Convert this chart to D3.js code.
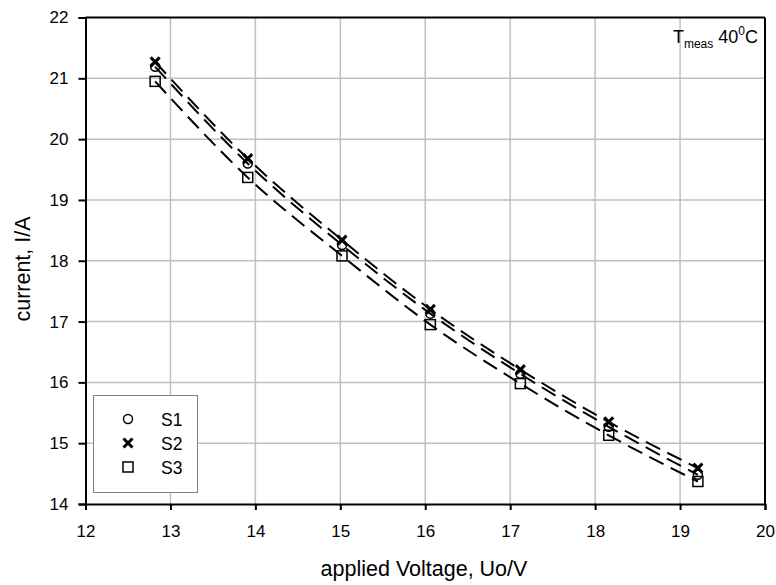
<!DOCTYPE html>
<html><head><meta charset="utf-8">
<script src="https://cdn.jsdelivr.net/npm/d3@7"></script>
<style>body{margin:0;background:#fff}text{font-family:"Liberation Sans",Arial,sans-serif}</style>
</head><body><svg id="c" width="776" height="585"></svg>
<script>
const voltage = [12.82, 13.91, 15.02, 16.06, 17.12, 18.16, 19.21];
const s1 = [21.19, 19.60, 18.26, 17.13, 16.14, 15.27, 14.48];
const s2 = [21.27, 19.68, 18.34, 17.20, 16.21, 15.35, 14.59];
const s3 = [20.95, 19.37, 18.08, 16.95, 15.98, 15.13, 14.37];
const seriesNames = ["S1", "S2", "S3"];
const xTicks = [12,13,14,15,16,17,18,19,20];
const yTicks = [14,15,16,17,18,19,20,21,22];

const svg = d3.select("#c");
const L=85.5, R=765, T=17.5, B=504;
const x = d3.scaleLinear().domain([12,20]).range([L,R]);
const y = d3.scaleLinear().domain([14,22]).range([B,T]);

// grid
svg.append("g").selectAll("line").data(xTicks.slice(1,-1)).join("line")
  .attr("x1",d=>x(d)).attr("x2",d=>x(d)).attr("y1",T).attr("y2",B)
  .attr("stroke","#c0c0c0").attr("stroke-width",1.5);
svg.append("g").selectAll("line").data(yTicks.slice(1,-1)).join("line")
  .attr("y1",d=>y(d)).attr("y2",d=>y(d)).attr("x1",L).attr("x2",R)
  .attr("stroke","#c0c0c0").attr("stroke-width",1.5);

// axes
const xa = svg.append("g").attr("transform",`translate(0,${B})`)
  .call(d3.axisBottom(x).tickValues(xTicks).tickSize(6).tickPadding(15).tickFormat(d3.format("d")));
const ya = svg.append("g").attr("transform",`translate(${L},0)`)
  .call(d3.axisLeft(y).tickValues(yTicks).tickSize(7).tickPadding(10).tickFormat(d3.format("d")));
[xa,ya].forEach(a=>{
  a.select(".domain").attr("stroke","#000").attr("stroke-width",2);
  a.selectAll(".tick line").attr("stroke","#000").attr("stroke-width",2);
  a.selectAll("text").style("font-size","17px").attr("fill","#000");
});
// top and right borders
svg.append("line").attr("x1",L).attr("x2",R).attr("y1",T).attr("y2",T).attr("stroke","#000").attr("stroke-width",2);
svg.append("line").attr("x1",R).attr("x2",R).attr("y1",T).attr("y2",B).attr("stroke","#000").attr("stroke-width",2);

// labels
svg.append("text").attr("x",424).attr("y",576).attr("text-anchor","middle").style("font-size","21.5px").text("applied Voltage, Uo/V");
svg.append("text").attr("transform","translate(30,269) rotate(-90)").attr("text-anchor","middle").style("font-size","21.5px").text("current, I/A");

// annotation
const ann = svg.append("text").attr("x",758).attr("y",43).attr("text-anchor","end").style("font-size","18px");
ann.append("tspan").text("T");
ann.append("tspan").style("font-size","12px").attr("dy",5).text("meas");
ann.append("tspan").attr("dy",-5).text(" 40");
ann.append("tspan").style("font-size","12px").attr("dy",-8).text("0");
ann.append("tspan").attr("dy",8).text("C");

// lines
const data = [s1,s2,s3];
const line = d3.line().x((d,i)=>x(voltage[i])).y(d=>y(d)).curve(d3.curveMonotoneX);
svg.append("g").selectAll("path").data(data).join("path")
  .attr("d",line).attr("fill","none").attr("stroke","#000").attr("stroke-width",2)
  .attr("stroke-dasharray","16,8");

// markers
function drawMarker(g, k, cx, cy){
  if(k===0) g.append("circle").attr("cx",cx).attr("cy",cy).attr("r",4.5).attr("fill","none").attr("stroke","#000").attr("stroke-width",1.5);
  else if(k===1) g.append("path").attr("d",`M${cx-4.5},${cy-4.5}L${cx+4.5},${cy+4.5}M${cx+4.5},${cy-4.5}L${cx-4.5},${cy+4.5}`).attr("stroke","#000").attr("stroke-width",3);
  else g.append("rect").attr("x",cx-5).attr("y",cy-5).attr("width",10).attr("height",10).attr("fill","none").attr("stroke","#000").attr("stroke-width",1.5);
}
const mg = svg.append("g");
data.forEach((s,k)=>s.forEach((v,i)=>drawMarker(mg,k,x(voltage[i]),y(v))));

// legend
const lg = svg.append("g");
lg.append("rect").attr("x",93.5).attr("y",395.5).attr("width",104).attr("height",97).attr("fill","#fff").attr("stroke","#808080").attr("stroke-width",1);
seriesNames.forEach((n,k)=>{
  const cy = 419 + k*24;
  drawMarker(lg,k,128,cy);
  lg.append("text").attr("x",161).attr("y",cy+6.5).style("font-size","17.5px").text(n);
});
</script></body></html>
